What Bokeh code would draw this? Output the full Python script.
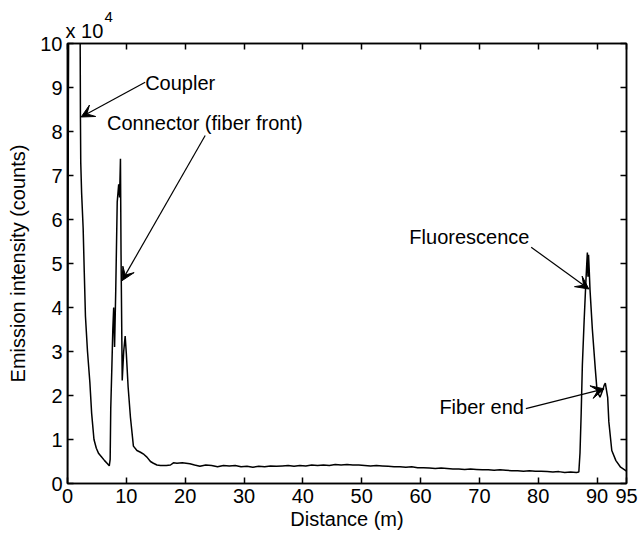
from bokeh.plotting import figure
from bokeh.models import (Range1d, FixedTicker, LinearAxis, Label, Arrow, VeeHead,
                          ColumnDataSource, Title)
from bokeh.embed import file_html
from bokeh.resources import INLINE

# ---------------- data (intensity in units of 1e4 counts) ----------------
distance = [0.0, 0.15, 0.25, 2.1, 2.2, 2.25, 2.4, 2.66, 2.85, 3.05, 3.4, 3.8, 4.1, 4.5, 4.9,
            5.3, 5.8, 6.3, 6.8, 7.1, 7.25, 7.35, 7.55, 7.7, 7.85, 8.0, 8.2, 8.45, 8.7, 8.85,
            9.0, 9.1, 9.3, 9.55, 9.8, 10.0, 10.3, 10.7, 11.2, 11.8, 12.4, 13.0, 13.5, 14.1,
            14.6, 15.2, 15.8, 16.8, 17.5, 18.0, 18.6, 19.5, 20.8, 21.6, 22.5, 23.5, 24.5,
            25.5, 26.5, 27.5, 28.5, 29.5, 30.5, 31.5, 32.5, 33.5, 34.5, 35.5, 36.5, 37.5,
            38.5, 39.5, 40.5, 41.5, 42.5, 43.5, 44.5, 45.5, 46.5, 47.5, 48.5, 49.5, 50.5,
            51.5, 52.5, 53.5, 54.5, 55.5, 56.5, 57.5, 58.5, 59.5, 60.5, 61.5, 62.5, 63.5,
            64.5, 65.5, 66.5, 67.5, 68.5, 69.5, 70.5, 71.5, 72.5, 73.5, 74.5, 75.5, 76.5,
            77.5, 78.5, 79.5, 80.5, 81.5, 82.5, 83.5, 84.5, 85.5, 86.5, 86.9, 87.1, 87.3,
            87.5, 87.8, 88.1, 88.25, 88.35, 88.45, 88.55, 88.65, 88.8, 89.2, 89.7, 90.0,
            90.5, 90.9, 91.2, 91.4, 91.8, 92.0, 92.5, 93.2, 94.0, 95.0]
intensity = [0.0, 8.8, 12.0, 12.0, 8.3, 7.3, 6.6, 5.8, 4.8, 3.8, 3.0, 2.3, 1.6, 1.0, 0.8,
             0.68, 0.6, 0.52, 0.45, 0.4, 0.55, 1.7, 2.7, 3.5, 4.0, 3.1, 4.4, 6.4, 6.8, 6.5,
             7.38, 5.2, 2.34, 3.0, 3.35, 2.95, 2.2, 1.5, 0.85, 0.75, 0.71, 0.66, 0.6, 0.5,
             0.46, 0.42, 0.41, 0.41, 0.42, 0.47, 0.46, 0.47, 0.45, 0.42, 0.39, 0.42, 0.41,
             0.38, 0.41, 0.40, 0.41, 0.38, 0.39, 0.37, 0.39, 0.38, 0.40, 0.39, 0.40, 0.41,
             0.39, 0.41, 0.40, 0.42, 0.41, 0.42, 0.41, 0.43, 0.42, 0.43, 0.42, 0.42, 0.41,
             0.40, 0.41, 0.40, 0.39, 0.38, 0.38, 0.37, 0.38, 0.36, 0.36, 0.35, 0.34, 0.35,
             0.34, 0.33, 0.33, 0.32, 0.33, 0.32, 0.31, 0.31, 0.30, 0.31, 0.30, 0.29, 0.29,
             0.28, 0.29, 0.28, 0.28, 0.27, 0.26, 0.27, 0.25, 0.26, 0.25, 0.26, 0.7, 1.6,
             2.7, 3.7, 4.6, 5.0, 5.25, 4.7, 5.2, 4.9, 4.4, 3.5, 2.6, 2.1,
             1.96, 2.1, 2.23, 2.28, 1.96, 1.4, 0.75, 0.52, 0.37, 0.28]

x_ticks = [0, 10, 20, 30, 40, 50, 60, 70, 80, 90, 95]
y_ticks = [0, 1, 2, 3, 4, 5, 6, 7, 8, 9, 10]
exponent_base = "x 10"
exponent_power = "4"

FONT = "Liberation Sans"
FS = "20px"

p = figure(width=639, height=535, output_backend="svg", toolbar_location=None,
           title=None,
           x_range=Range1d(0, 95), y_range=Range1d(0, 10),
           min_border_left=67, min_border_right=13, min_border_top=43, min_border_bottom=52)
p.background_fill_color = "white"
p.border_fill_color = "white"
p.xgrid.visible = False
p.ygrid.visible = False
p.outline_line_color = "black"
p.outline_line_width = 1.5

src = ColumnDataSource(dict(x=distance, y=intensity))
p.line("x", "y", source=src, line_color="black", line_width=1.5)

def style_axis(ax, ticks, labels=True):
    ax.ticker = FixedTicker(ticks=ticks)
    ax.major_tick_in = 6
    ax.major_tick_out = 0
    ax.minor_tick_line_color = None
    ax.axis_line_color = "black"
    ax.axis_line_width = 1.5
    ax.major_tick_line_color = "black"
    ax.major_tick_line_width = 1.5
    ax.major_label_text_font = FONT
    ax.axis_label_text_font = FONT
    ax.axis_label_text_font_size = FS
    ax.axis_label_text_font_style = "normal"
    ax.axis_label_text_color = "black"
    if labels:
        ax.major_label_text_color = "black"
        ax.major_label_text_font_size = FS
        ax.major_label_standoff = 5
    else:
        ax.major_label_text_color = None
        ax.major_label_text_font_size = "1px"
        ax.major_label_standoff = 0

style_axis(p.xaxis[0], x_ticks)
style_axis(p.yaxis[0], y_ticks)
p.xaxis[0].axis_label = "Distance (m)"
p.xaxis[0].axis_label_standoff = 2
p.yaxis[0].axis_label = "Emission intensity (counts)"
p.yaxis[0].axis_label_standoff = 8

top_ax = LinearAxis()
style_axis(top_ax, x_ticks, labels=False)
right_ax = LinearAxis()
style_axis(right_ax, y_ticks, labels=False)
p.add_layout(right_ax, "right")

# exponent "x 10^4" above the top-left corner (two stacked titles)
t_base = Title(text=exponent_base, align="left", text_font=FONT, text_font_size=FS,
               text_font_style="normal", text_color="black", offset=-2, standoff=4)
t_pow = Title(text=exponent_power, align="left", text_font=FONT, text_font_size="15px",
              text_font_style="normal", text_color="black", offset=37, standoff=-12)
p.above = [top_ax, t_base, t_pow]

# annotations: text, text x, text y, arrow start x, y, arrow end x, y
annotations = [
    ("Coupler", 13.2, 9.11, 13.2, 9.12, 2.32, 8.33),
    ("Connector (fiber front)", 6.72, 8.2, 23.4, 7.91, 9.27, 4.61),
    ("Fluorescence", 58.1, 5.61, 78.8, 5.37, 88.6, 4.42),
    ("Fiber end", 63.2, 1.75, 77.9, 1.70, 91.2, 2.15),
]
for text, tx, ty, xs, ys, xe, ye in annotations:
    p.add_layout(Label(x=tx, y=ty, text=text, text_font=FONT, text_font_size=FS,
                       text_align="left", text_baseline="middle", text_color="black"))
    p.add_layout(Arrow(end=VeeHead(size=13, fill_color="black", line_color="black"),
                       x_start=xs, y_start=ys, x_end=xe, y_end=ye,
                       line_color="black", line_width=1.2))

open("out.html", "w").write(file_html(p, INLINE))
